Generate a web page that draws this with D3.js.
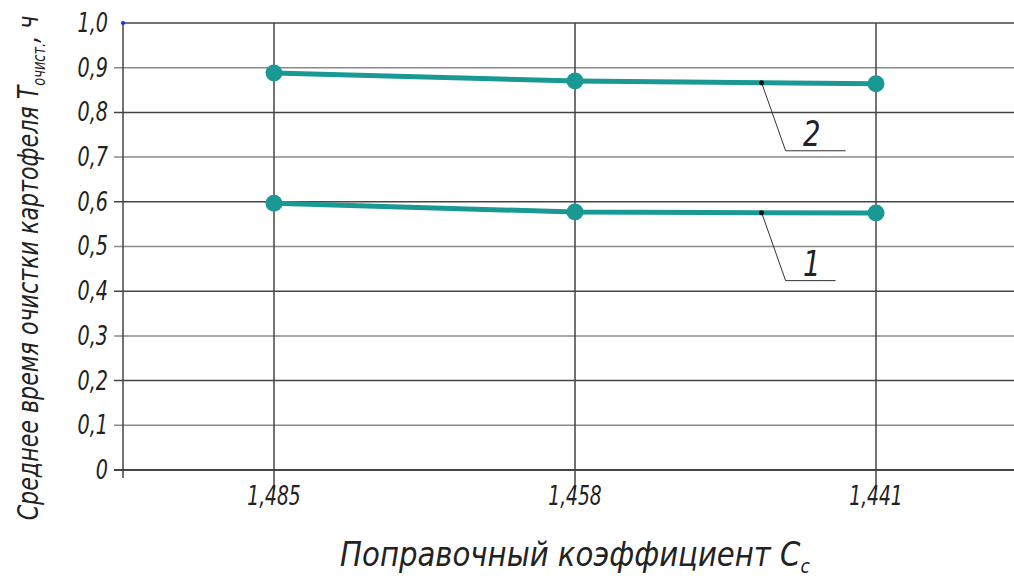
<!DOCTYPE html>
<html>
<head>
<meta charset="utf-8">
<script src="https://cdn.jsdelivr.net/npm/d3@7"></script>
<style>
  body{margin:0;background:#fff;}
  text{font-family:"DejaVu Sans Condensed","Liberation Sans Narrow",sans-serif;font-style:italic;fill:#222;}
</style>
</head>
<body>
<div id="chart"></div>
<script>
// Поправочный коэффициент Cc / среднее время очистки
const categories = ["1,485","1,458","1,441"];
const series1    = [0.597, 0.577, 0.575];
const series2    = [0.888, 0.870, 0.864];
const yTicks     = [0,0.1,0.2,0.3,0.4,0.5,0.6,0.7,0.8,0.9,1.0];
const seriesNames = ["1","2"];

const width = 1014, height = 578;
const svg = d3.select("#chart").append("svg").attr("width",width).attr("height",height);

const x = d3.scalePoint().domain(categories).range([274,876]);
const y = d3.scaleLinear().domain([0,1]).range([470,23]);
const fmt = d => d===0 ? "0" : d3.format(".1f")(d).replace(".",",");

// горизонтальная сетка
svg.append("g").selectAll("line").data(yTicks).join("line")
  .attr("x1",d=>d===1?123:114).attr("x2",width)
  .attr("y1",d=>y(d)).attr("y2",d=>y(d))
  .attr("stroke",(d,i)=>i%2?"#8a8a8a":"#444").attr("stroke-width",d=>d===0?2:1.5);

// вертикальные линии
svg.append("g").selectAll("line").data(categories).join("line")
  .attr("x1",d=>x(d)).attr("x2",d=>x(d))
  .attr("y1",y(1)).attr("y2",y(0)+20)
  .attr("stroke","#444").attr("stroke-width",1.5);

// ось Y
svg.append("line").attr("x1",123).attr("x2",123).attr("y1",y(1)).attr("y2",y(0)+8)
  .attr("stroke","#444").attr("stroke-width",1.5);
svg.append("circle").attr("cx",123).attr("cy",y(1)).attr("r",2).attr("fill","#1030e0");

// подписи Y
svg.append("g").selectAll("text").data(yTicks).join("text")
  .attr("x",108).attr("y",d=>y(d)+9)
  .attr("text-anchor","end").attr("font-size",26)
  .attr("transform",d=>`translate(${108*0.18},0) scale(0.82,1)`)
  .attr("x",108/0.82 - 108*0.18/0.82)
  .text(fmt);

// подписи X
svg.append("g").selectAll("text").data(categories).join("text")
  .attr("transform",d=>`translate(${x(d)},505) scale(0.8,1)`)
  .attr("text-anchor","middle").attr("font-size",26)
  .text(d=>d);

// линии серий
const line = d3.line().x((d,i)=>x(categories[i])).y(d=>y(d));
[series1,series2].forEach(s=>{
  svg.append("path").datum(s).attr("d",line)
    .attr("fill","none").attr("stroke","#1a9994").attr("stroke-width",5);
  svg.append("g").selectAll("circle").data(s).join("circle")
    .attr("cx",(d,i)=>x(categories[i])).attr("cy",d=>y(d)).attr("r",8.5)
    .attr("fill","#1a9994");
});

// выноски
[series1,series2].forEach((s,k)=>{
  const t = 0.62;
  const px = x(categories[1]) + t*(x(categories[2])-x(categories[1]));
  const py = y(s[1] + t*(s[2]-s[1]));
  const ly = py + 68;
  const g = svg.append("g");
  g.append("polyline")
    .attr("points",`${px},${py} ${px+24},${ly} ${px+(k?84:74)},${ly}`)
    .attr("fill","none").attr("stroke","#333").attr("stroke-width",1);
  g.append("circle").attr("cx",px).attr("cy",py).attr("r",2.5).attr("fill","#111");
  g.append("text").attr("transform",`translate(${px+50},${ly-5}) scale(0.85,1)`)
    .attr("text-anchor","middle").attr("font-size",36).text(seriesNames[k]);
});

// заголовок оси X
const xt = svg.append("text").attr("text-anchor","middle").attr("font-size",34);
xt.append("tspan").text("Поправочный коэффициент C");
xt.append("tspan").attr("font-size",20).attr("dy",7).text("c");
const xw = xt.node().getComputedTextLength();
xt.attr("transform",`translate(575,566) scale(${470/xw},1)`);

// заголовок оси Y
const yt = svg.append("text").attr("text-anchor","middle").attr("font-size",29);
yt.append("tspan").text("Среднее время очистки картофеля T");
yt.append("tspan").attr("font-size",17).attr("dy",7).text("очист.");
yt.append("tspan").attr("dy",-7).text(", ч");
const yw = yt.node().getComputedTextLength();
yt.attr("transform",`translate(38,268) rotate(-90) scale(${505/yw},1)`);
</script>
</body>
</html>
